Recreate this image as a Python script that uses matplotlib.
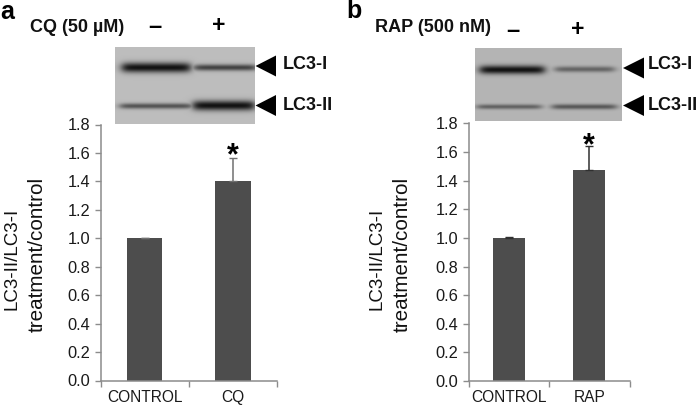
import matplotlib
matplotlib.use("Agg")
import matplotlib.pyplot as plt
import numpy as np
from matplotlib.patches import Polygon

plt.rcParams['font.family'] = ['Liberation Sans', 'DejaVu Sans']

W, H = 697, 405

# bar data
labels_a = ['CONTROL', 'CQ']
values_a = [1.0, 1.4]
errors_a = [0.004, 0.167]

labels_b = ['CONTROL', 'RAP']
values_b = [1.0, 1.475]
errors_b = [0.004, 0.165]

yticks = [0.0, 0.2, 0.4, 0.6, 0.8, 1.0, 1.2, 1.4, 1.6, 1.8]

# blot bands: x start, x end, y centre, half thickness, darkness
bands_a = [(122, 190, 68, 5.0, 1.0), (194, 256, 68, 3.2, 0.72),
           (120, 192, 106.5, 2.8, 0.62), (193, 254, 106, 5.0, 1.0)]
bands_b = [(480, 544, 69.5, 4.3, 1.0), (555, 614, 69, 2.9, 0.5),
           (477, 541, 106.5, 2.4, 0.52), (552, 616, 106.5, 2.6, 0.58)]


def panel(fig, box, labels, values, errors, err_color):
    # box is left, top, right, bottom in image pixels
    l, t, r, b = box
    ax = fig.add_axes([l / W, 1 - b / H, (r - l) / W, (b - t) / H])
    ax.bar([0, 1], values, width=0.4, color='#4d4d4d',
           yerr=[[0, 0], errors], ecolor=err_color,
           error_kw=dict(elinewidth=1.1, capsize=2.6, capthick=1.0))
    ax.set_xlim(-0.5, 1.5)
    ax.set_ylim(0, 1.8)
    ax.set_yticks(yticks)
    ax.set_yticklabels(['%.1f' % v for v in yticks], fontsize=11.8, color='#1a1a1a')
    ax.set_xticks([-0.5, 0.5, 1.5])
    ax.set_xticklabels([])
    ax.set_xticks([0, 1], labels, minor=True, fontsize=11.2, color='#1a1a1a')
    ax.tick_params(axis='x', which='minor', length=0, pad=6.5)
    ax.tick_params(axis='x', which='major', length=4, width=1, color='#8c8c8c', direction='out')
    ax.tick_params(axis='y', length=4.5, width=1, color='#8c8c8c', pad=3)
    for s in ['top', 'right']:
        ax.spines[s].set_visible(False)
    for s in ['left', 'bottom']:
        ax.spines[s].set_color('#8c8c8c')
        ax.spines[s].set_linewidth(1.1)
    return ax


def blot(ov, box, bands, bg):
    l, t, r, b = box
    xs = np.arange(l, r, 0.5)
    ys = np.arange(t, b, 0.5)
    X, Y = np.meshgrid(xs, ys)
    img = np.zeros_like(X)
    for x0, x1, yc, hw, d in bands:
        fx = 0.5 * (np.tanh((X - x0) / 5.0) - np.tanh((X - x1) / 5.0))
        fy = np.exp(-((Y - yc) / hw) ** 2)
        img = np.maximum(img, d * fx * fy)
    gray = bg * (1 - img) + 0.07 * img
    ov.imshow(gray, cmap='gray', vmin=0, vmax=1, extent=(l, r, b, t),
              aspect='auto', interpolation='bilinear', zorder=1)


def arrow(ov, tip, base, y):
    ov.add_patch(Polygon([(tip, y), (base, y - 10.5), (base, y + 10.5)], closed=True,
                         color='black', lw=0, zorder=2))


fig = plt.figure(figsize=(W / 100, H / 100), dpi=100)

ax_a = panel(fig, (100.5, 124.5, 277, 380.5), labels_a, values_a, errors_a, '#707070')
ax_b = panel(fig, (469, 123.5, 629.5, 381), labels_b, values_b, errors_b, '#303030')

# overlay in pixel coordinates for the blots and annotations
ov = fig.add_axes([0, 0, 1, 1], zorder=5)
ov.patch.set_alpha(0)
blot(ov, (115, 47.7, 254.7, 124.3), bands_a, 0.74)
blot(ov, (475, 48, 621.7, 120.7), bands_b, 0.71)
ov.set_xlim(0, W)
ov.set_ylim(H, 0)
ov.axis('off')

arrow(ov, 255.5, 276, 66)
arrow(ov, 255.5, 276, 105.5)
arrow(ov, 623, 644, 68)
arrow(ov, 623, 644, 105.5)

bold = dict(fontweight='bold', fontsize=13, va='center', color='#111111')
ov.text(283, 64.5, 'LC3-I', **bold)
ov.text(283, 106, 'LC3-II', **bold)
ov.text(648, 64.5, 'LC3-I', **bold)
ov.text(648, 105.5, 'LC3-II', **bold)
ov.text(30, 27, 'CQ (50 µM)', **bold)
ov.text(375, 27, 'RAP (500 nM)', **bold)

ov.text(155, 26, '–', fontweight='bold', fontsize=17, ha='center', va='center')
ov.text(219, 26, '+', fontweight='bold', fontsize=16.5, ha='center', va='center')
ov.text(513, 30, '–', fontweight='bold', fontsize=17, ha='center', va='center')
ov.text(577.5, 30, '+', fontweight='bold', fontsize=16.5, ha='center', va='center')

ov.text(0, 12, 'a', fontweight='bold', fontsize=18, va='center')
ov.text(346, 11, 'b', fontweight='bold', fontsize=18, va='center')

ov.text(233, 156, '*', fontweight='bold', fontsize=22, ha='center', va='center')
ov.text(589, 146, '*', fontweight='bold', fontsize=22, ha='center', va='center')

ylab = dict(rotation=90, ha='center', va='bottom', color='#111111')
ov.text(12.5, 310, 'LC3-II/LC3-I', fontsize=13.5, **ylab)
ov.text(37.5, 332.5, 'treatment/control', fontsize=14.9, **ylab)
ov.text(377, 310, 'LC3-II/LC3-I', fontsize=13.5, **ylab)
ov.text(402.5, 332.5, 'treatment/control', fontsize=14.9, **ylab)

fig.savefig('out.png', dpi=100)
